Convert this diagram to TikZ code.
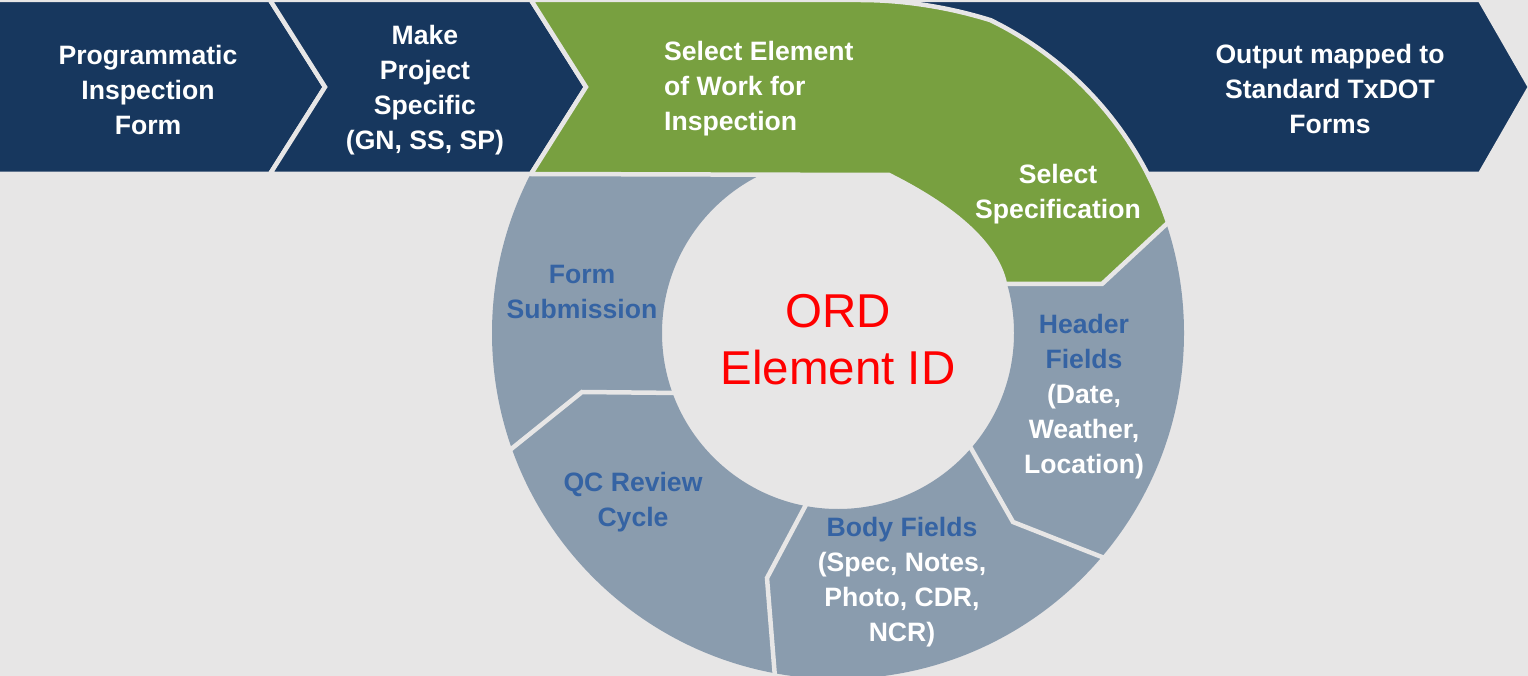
\documentclass[tikz,border=0pt]{standalone}
\usepackage{fontspec}
\setmainfont{Liberation Sans}
\definecolor{bgc}{HTML}{E7E6E6}
\definecolor{navy}{HTML}{17375E}
\definecolor{leaf}{HTML}{78A040}
\definecolor{ringc}{HTML}{8A9CAE}
\definecolor{lblue}{HTML}{3563A3}
\definecolor{idred}{HTML}{FF0000}
\begin{document}
\begin{tikzpicture}[x=1pt,y=-1pt,
  band/.style={fill=navy, draw=bgc, line width=4.5pt, line join=miter},
  leafband/.style={fill=leaf, draw=bgc, line width=4.5pt, line join=miter},
  gapline/.style={draw=bgc, line width=4.5pt, line join=miter},
  lbl/.style={font=\bfseries\fontsize{26.6}{35}\selectfont, text=white, align=center, inner sep=0pt},
  idtext/.style={font=\fontsize{47.5}{57}\selectfont, text=idred, align=center, inner sep=0pt}]
% canvas
\fill[bgc] (0,0) rectangle (1528,676);
\useasboundingbox (0,0) rectangle (1528,676);

% ring of process steps below the band
\begin{scope}
  \clip (0,172) rectangle (1528,680);
  \fill[ringc, even odd rule] (838,333) circle[radius=346] (838,333) circle[radius=176];
\end{scope}
% separators between ring segments
\draw[gapline] (968,443) -- (1013,522) -- (1112,561);
\draw[gapline] (809,499) -- (767,578) -- (776,690);
\draw[gapline] (681,393) -- (582,392) -- (505,454);

% top band of chevrons
\draw[band] (-5,0) -- (270,0) -- (325,87) -- (270,174) -- (-5,174) -- cycle;
\draw[band] (270,0) -- (325,87) -- (270,174) -- (531,174) -- (586,87) -- (531,0) -- cycle;
\draw[band] (900,0) -- (1480,0) -- (1530,87) -- (1480,174) -- (1140,174) -- cycle;

% green step bending into the ring
\draw[leafband] (531,0) -- (860,0) .. controls (900,0) and (945,6) .. (990.6,20.2)
  arc[start angle=-64, end angle=-18.5, radius=348]
  -- (1102,284) -- (1005,284)
  .. controls (995,237) and (939,200) .. (889,175)
  -- (531,174) -- (586,87) -- cycle;

% labels
\node[lbl] (t1) at (148,90) {Programmatic\\Inspection\\Form};
\node[lbl] (t2) at (425,90) {Make\\Project\\Specific\\(GN, SS, SP)};
\node[lbl, align=left, anchor=west] (t3) at (664,89) {Select Element\\of Work for\\Inspection};
\node[lbl] (t4) at (1058,194) {Select\\Specification};
\node[lbl] (t5) at (1330,89) {Output mapped to\\Standard TxDOT\\Forms};
\node[lbl, text=lblue] (r1) at (582,292) {Form\\Submission};
\node[lbl, text=lblue] (r2) at (633,502) {QC Review\\Cycle};
\node[lbl] (r3) at (902,582) {\textcolor{lblue}{Body Fields}\\(Spec, Notes,\\Photo, CDR,\\NCR)};
\node[lbl] (r4) at (1084,397) {\textcolor{lblue}{Header}\\\textcolor{lblue}{Fields}\\(Date,\\Weather,\\Location)};
\node[idtext] (c) at (838,340) {ORD\\Element ID};
\end{tikzpicture}
\end{document}
